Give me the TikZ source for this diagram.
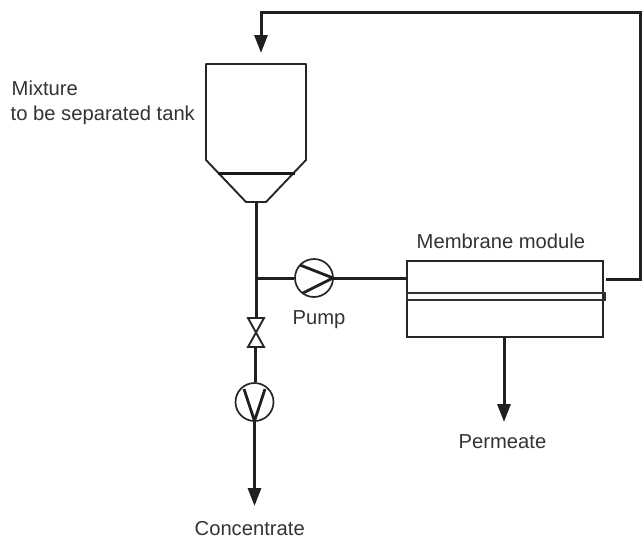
\documentclass[tikz,border=0pt]{standalone}
\usepackage{fontspec}
\setmainfont{Liberation Sans}
\usetikzlibrary{arrows.meta}
\tikzset{
  x=1pt,y=-1pt,
  pipe/.style={draw=black!88,line width=3pt},
  flow/.style={pipe,-{Triangle[length=18pt,width=13pt]}},
  outline/.style={draw=black!85,line width=1.9pt,fill=white},
  blade/.style={draw=black!88,line width=2.8pt},
  lbl/.style={inner sep=0pt,text=black!80,font=\fontsize{20.2}{25}\selectfont,anchor=base west},
  pumpbody/.style={circle,draw=black!85,line width=1.7pt,minimum size=38pt,inner sep=0pt,fill=white},
  dot/.style={inner sep=0pt,minimum size=0pt}
}
\begin{document}
\begin{tikzpicture}
\useasboundingbox (0,0) rectangle (642,541);
% tank
\draw[outline,line join=round] (206,64) -- (306,64) -- (306,160) -- (266,202) -- (246,202) -- (206,160) -- cycle;
\draw[draw=black!90,line width=3pt] (218,173) -- (295,173);
\coordinate (tankout) at (256,202);
\coordinate (tankin) at (261,53);
% junction
\coordinate (tee) at (256,278);
% pump
\node[pumpbody] (pump) at (314,278) {};
\node[dot] (pumpv) at (333,278) {};
\draw[blade] (300,265) -- (pumpv.center) -- (303,293);
% valve
\node[dot] (valvetop) at (256,318) {};
\node[dot] (valvebot) at (255,347) {};
\draw[outline,line join=miter] (248,318) -- (264,318) -- (248,347) -- (264,347) -- cycle;
% lower pump
\node[pumpbody] (cpump) at (254.5,402) {};
\node[dot] (cpumpv) at (254.5,421) {};
\draw[blade] (244,389) -- (cpumpv.center) -- (265,389);
% membrane
\node[draw=black!85,line width=1.9pt,minimum width=196pt,minimum height=76pt,inner sep=0pt,anchor=north west] (module) at (406,260) {};
\node[draw=black!80,line width=1.8pt,minimum width=198pt,minimum height=7pt,inner sep=0pt,anchor=north west] (strip) at (406,292) {};
% pipes
\draw[pipe] (tankout) -- (valvetop.center);
\draw[pipe] (tee) -- (pump.west);
\draw[pipe] (pumpv.center) -- (module.west |- pumpv);
\draw[pipe] (valvebot.center) -- (cpump.north -| valvebot);
\coordinate (retout) at (606,279);
\draw[pipe,line join=miter] (retout) -- (640.5,279) -- (640.5,12) -- (261,12) -- (261,34);
\draw[flow] (261,34) -- (tankin);
\coordinate (permend) at (504,422);
\draw[flow] (module.south -| permend) -- (permend);
\coordinate (concend) at (254.5,506);
\draw[flow] (cpumpv.center) -- (concend);
% labels
\node[lbl] (t1) at (11.5,95) {Mixture};
\node[lbl] (t2) at (10.5,120) {to be separated tank};
\node[lbl] (t3) at (292.5,324) {Pump};
\node[lbl] (t4) at (416.5,248) {Membrane module};
\node[lbl] (t5) at (458.5,448) {Permeate};
\node[lbl] (t6) at (194.5,535.5) {Concentrate};
\end{tikzpicture}
\end{document}
